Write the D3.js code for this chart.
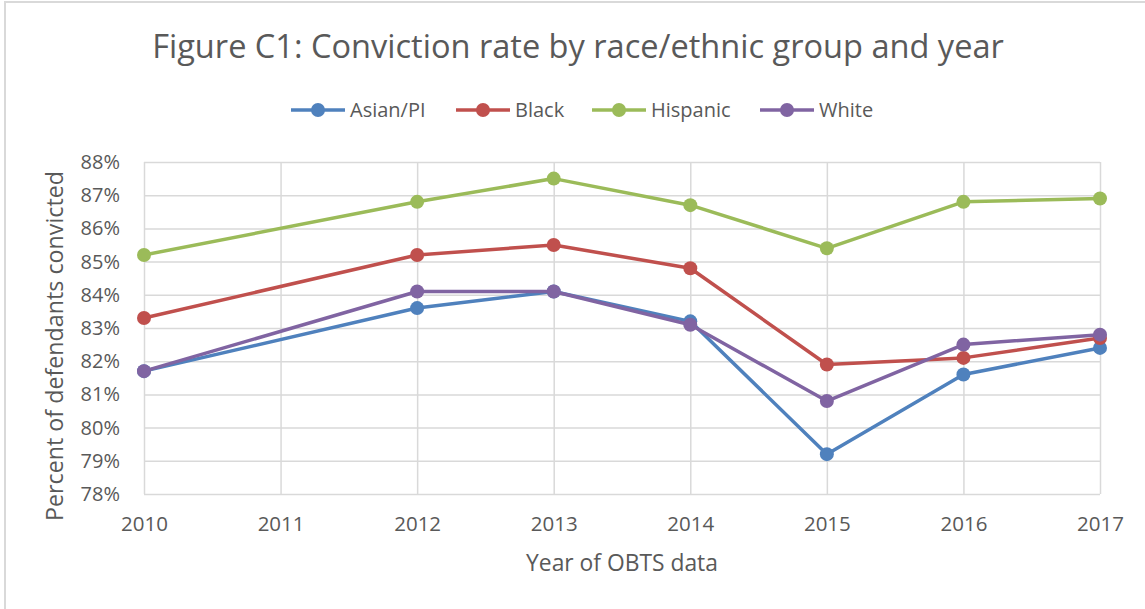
<!DOCTYPE html>
<html>
<head>
<meta charset="utf-8">
<script src="https://cdn.jsdelivr.net/npm/d3@7"></script>
<style>
  body { margin: 0; background: #fff; }
  text { font-family: "Open Sans", sans-serif; fill: #595959; }
</style>
</head>
<body>
<div id="chart"></div>
<script>
// Data
const years = [2010, 2012, 2013, 2014, 2015, 2016, 2017]
const tickYears = [2010, 2011, 2012, 2013, 2014, 2015, 2016, 2017]
const groups = ["Asian/PI", "Black", "Hispanic", "White"]
const asianPI = [81.7, 83.6, 84.1, 83.2, 79.2, 81.6, 82.4]
const black = [83.3, 85.2, 85.5, 84.8, 81.9, 82.1, 82.7]
const hispanic = [85.2, 86.8, 87.5, 86.7, 85.4, 86.8, 86.9]
const white = [81.7, 84.1, 84.1, 83.1, 80.8, 82.5, 82.8]
const percentTicks = [78, 79, 80, 81, 82, 83, 84, 85, 86, 87, 88]

const colors = ["#4f81bd", "#c0504d", "#9bbb59", "#8064a2"]
const seriesValues = [asianPI, black, hispanic, white]

const width = 1145, height = 609
const plot = { left: 144, right: 1100, top: 162, bottom: 494 }

const svg = d3.select("#chart").append("svg")
   .attr("width", width)
   .attr("height", height)

// chart frame (only left/top edges visible in the reference)
svg.append("rect")
   .attr("x", 5).attr("y", 2)
   .attr("width", width + 10).attr("height", height + 10)
   .attr("fill", "none")
   .attr("stroke", "#d9d9d9")
   .attr("stroke-width", 2)

const x = d3.scaleLinear().domain([2010, 2017]).range([plot.left, plot.right])
const y = d3.scaleLinear().domain([78, 88]).range([plot.bottom, plot.top])

// fit a text element to a target width
function fit(sel, target) {
   let w = sel.node().getComputedTextLength()
   let fs = parseFloat(sel.attr("font-size"))
   sel.attr("font-size", fs * target / w)
}

// title
let title = svg.append("text")
   .attr("x", 578).attr("y", 58)
   .attr("text-anchor", "middle")
   .attr("font-size", 30)
   .text("Figure C1: Conviction rate by race/ethnic group and year")
fit(title, 852)

// gridlines
svg.append("g")
   .attr("transform", `translate(0,${plot.bottom})`)
   .call(d3.axisBottom(x).tickValues(tickYears).tickSize(-(plot.bottom - plot.top)).tickFormat(""))
   .call(g => g.select(".domain").remove())
   .call(g => g.selectAll("line").attr("stroke", "#d9d9d9").attr("stroke-width", 1.5))

svg.append("g")
   .attr("transform", `translate(${plot.left},0)`)
   .call(d3.axisLeft(y).tickValues(percentTicks).tickSize(-(plot.right - plot.left)).tickFormat(""))
   .call(g => g.select(".domain").remove())
   .call(g => g.selectAll("line").attr("stroke", "#d9d9d9").attr("stroke-width", 1.5))

// axis tick labels
svg.append("g")
   .attr("transform", `translate(0,${plot.bottom})`)
   .call(d3.axisBottom(x).tickValues(tickYears).tickSize(0).tickPadding(22).tickFormat(d3.format("d")))
   .call(g => g.select(".domain").remove())
   .call(g => g.selectAll("text").attr("font-size", 20.5).attr("font-family", null).attr("fill", "#595959"))

svg.append("g")
   .attr("transform", `translate(${plot.left},0)`)
   .call(d3.axisLeft(y).tickValues(percentTicks).tickSize(0).tickPadding(24).tickFormat(d => d + "%"))
   .call(g => g.select(".domain").remove())
   .call(g => g.selectAll("text").attr("font-size", 20).attr("font-family", null).attr("fill", "#595959"))

// axis titles
let xTitle = svg.append("text")
   .attr("x", 622).attr("y", 571)
   .attr("text-anchor", "middle")
   .attr("font-size", 21)
   .text("Year of OBTS data")
fit(xTitle, 192)

let yTitle = svg.append("text")
   .attr("transform", "translate(63,346) rotate(-90)")
   .attr("text-anchor", "middle")
   .attr("font-size", 22)
   .text("Percent of defendants convicted")
fit(yTitle, 350)

// series lines + markers
const line = d3.line()
   .x((d, i) => x(years[i]))
   .y(d => y(d))

seriesValues.forEach(function(vals, k) {
   svg.append("path")
      .datum(vals)
      .attr("fill", "none")
      .attr("stroke", colors[k])
      .attr("stroke-width", 3.5)
      .attr("stroke-linejoin", "round")
      .attr("d", line)

   svg.selectAll("circle.s" + k)
      .data(vals)
      .enter().append("circle")
         .attr("class", "s" + k)
         .attr("cx", (d, i) => x(years[i]))
         .attr("cy", d => y(d))
         .attr("r", 7)
         .attr("fill", colors[k])
})

// legend
const legendX = [291, 456, 592, 760]
const legend = svg.selectAll("g.legend")
   .data(groups)
   .enter().append("g")
      .attr("class", "legend")
      .attr("transform", (d, i) => `translate(${legendX[i]},110)`)

legend.append("line")
   .attr("x1", 0).attr("x2", 54)
   .attr("stroke", (d, i) => colors[i])
   .attr("stroke-width", 3.5)
legend.append("circle")
   .attr("cx", 27).attr("r", 7)
   .attr("fill", (d, i) => colors[i])
legend.append("text")
   .attr("x", 59).attr("y", 7)
   .attr("font-size", 20)
   .text(d => d)
</script>
</body>
</html>
